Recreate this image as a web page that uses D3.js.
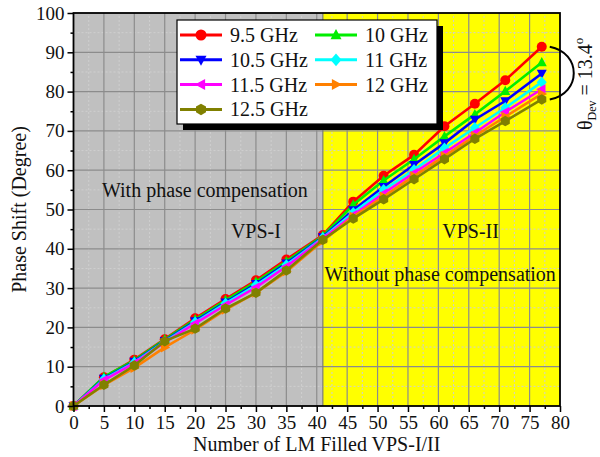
<!DOCTYPE html>
<html>
<head>
<meta charset="utf-8">
<script src="https://cdn.jsdelivr.net/npm/d3@7/dist/d3.min.js"></script>
<style>
  html, body { margin: 0; padding: 0; background: #fff; }
  svg { display: block; font-family: "Liberation Serif", "Times New Roman", serif; }
</style>
</head>
<body>
<svg id="chart" width="600" height="457"></svg>
<script>
// Number of LM-filled cells (x) and phase shift per frequency (degrees)
const cells = [0, 5, 10, 15, 20, 25, 30, 35, 41, 46, 51, 56, 61, 66, 71, 77];
const f95  = [0, 7.3, 11.8, 17.0, 22.3, 27.2, 32.0, 37.3, 43.5, 52.0, 58.6, 63.9, 71.2, 76.9, 82.9, 91.4];
const f10  = [0, 7.4, 11.6, 16.9, 22.0, 26.9, 31.6, 36.8, 43.3, 51.2, 57.4, 62.8, 68.6, 74.2, 80.1, 87.4];
const f105 = [0, 7.0, 11.3, 16.6, 21.6, 26.4, 31.1, 36.3, 43.0, 49.9, 55.8, 61.4, 66.9, 72.9, 77.6, 84.6];
const f11  = [0, 6.8, 11.1, 16.4, 21.3, 26.1, 30.7, 35.9, 42.8, 49.2, 55.0, 60.1, 65.6, 70.8, 75.9, 82.4];
const f115 = [0, 6.6, 10.9, 16.2, 21.0, 25.7, 30.2, 35.5, 42.6, 48.6, 54.1, 59.3, 64.4, 69.5, 74.8, 80.6];
const f12  = [0, 5.3, 9.7, 14.9, 19.4, 24.5, 28.8, 34.2, 42.0, 48.2, 53.3, 58.5, 63.6, 68.7, 73.6, 79.4];
const f125 = [0, 5.4, 10.3, 16.5, 19.7, 24.8, 28.8, 34.5, 42.3, 47.7, 52.6, 57.7, 62.8, 68.0, 72.5, 78.0];

const seriesNames = ["9.5 GHz", "10 GHz", "10.5 GHz", "11 GHz", "11.5 GHz", "12 GHz", "12.5 GHz"];
const seriesValues = [f95, f10, f105, f11, f115, f12, f125];
const seriesColors = ["#ff0000", "#00ee00", "#0000ff", "#00ffff", "#ff00ff", "#ff8000", "#808000"];
const seriesSymbols = ["circle", "up", "down", "diamond", "left", "right", "hexagon"];

const xTicks = [0, 5, 10, 15, 20, 25, 30, 35, 40, 45, 50, 55, 60, 65, 70, 75, 80];
const yTicks = [0, 10, 20, 30, 40, 50, 60, 70, 80, 90, 100];
const splitAt = 41;        // boundary between VPS-I and VPS-II
const deviation = 13.4;    // spread at the last point

const svg = d3.select("#chart");
const x = d3.scaleLinear().domain([0, 80]).range([73.5, 560]);
const y = d3.scaleLinear().domain([0, 100]).range([406, 13]);

// Background regions
svg.append("rect").attr("x", x(0)).attr("y", y(100))
  .attr("width", x(splitAt) - x(0)).attr("height", y(0) - y(100)).attr("fill", "#c0c0c0");
svg.append("rect").attr("x", x(splitAt)).attr("y", y(100))
  .attr("width", x(80) - x(splitAt)).attr("height", y(0) - y(100)).attr("fill", "#ffff00");

// Grid: minor dotted, major solid
const grid = svg.append("g");
d3.range(2.5, 80, 5).forEach(v => grid.append("line")
  .attr("x1", x(v)).attr("x2", x(v)).attr("y1", y(0)).attr("y2", y(100))
  .attr("stroke", "#cfcfcf").attr("stroke-width", 1).attr("stroke-dasharray", "2,2"));
d3.range(5, 100, 10).forEach(v => grid.append("line")
  .attr("x1", x(0)).attr("x2", x(80)).attr("y1", y(v)).attr("y2", y(v))
  .attr("stroke", "#cfcfcf").attr("stroke-width", 1).attr("stroke-dasharray", "2,2"));
xTicks.slice(1, -1).forEach(v => grid.append("line")
  .attr("x1", x(v)).attr("x2", x(v)).attr("y1", y(0)).attr("y2", y(100))
  .attr("stroke", "#8c8c8c").attr("stroke-width", 1.2));
yTicks.slice(1, -1).forEach(v => grid.append("line")
  .attr("x1", x(0)).attr("x2", x(80)).attr("y1", y(v)).attr("y2", y(v))
  .attr("stroke", "#8c8c8c").attr("stroke-width", 1.2));
// region divider
svg.append("line").attr("x1", x(splitAt)).attr("x2", x(splitAt)).attr("y1", y(0)).attr("y2", y(100))
  .attr("stroke", "#7a7a7a").attr("stroke-width", 1.2);

// Region captions
const cap = svg.append("g").attr("font-size", 20).attr("fill", "#111");
cap.append("text").attr("x", x(21.6)).attr("y", y(53.3)).attr("text-anchor", "middle").text("With phase compensation");
cap.append("text").attr("x", x(30)).attr("y", y(42.8)).attr("text-anchor", "middle").text("VPS-I");
cap.append("text").attr("x", x(65.3)).attr("y", y(42.8)).attr("text-anchor", "middle").text("VPS-II");
cap.append("text").attr("x", x(60.3)).attr("y", y(31.8)).attr("text-anchor", "middle").text("Without phase compensation");

// Marker shapes
function symbolPath(kind, r) {
  switch (kind) {
    case "circle": return d3.symbol(d3.symbolCircle, Math.PI * r * r)();
    case "up": return `M0,${-r * 1.1}L${r},${r * 0.75}L${-r},${r * 0.75}Z`;
    case "down": return `M0,${r * 1.1}L${r},${-r * 0.75}L${-r},${-r * 0.75}Z`;
    case "left": return `M${-r * 1.1},0L${r * 0.75},${-r}L${r * 0.75},${r}Z`;
    case "right": return `M${r * 1.1},0L${-r * 0.75},${-r}L${-r * 0.75},${r}Z`;
    case "diamond": return `M0,${-r * 1.15}L${r},0L0,${r * 1.15}L${-r},0Z`;
    case "hexagon": {
      const pts = d3.range(6).map(i => {
        const a = Math.PI / 6 + i * Math.PI / 3;
        return [r * 1.05 * Math.cos(a), r * 1.05 * Math.sin(a)];
      });
      return "M" + pts.map(p => p.join(",")).join("L") + "Z";
    }
  }
}

// Series lines and markers
const line = d3.line().x(d => x(d[0])).y(d => y(d[1]));
seriesValues.forEach((vals, i) => {
  const pts = cells.map((c, j) => [c, vals[j]]);
  const g = svg.append("g");
  g.append("path").attr("d", line(pts)).attr("fill", "none")
    .attr("stroke", seriesColors[i]).attr("stroke-width", 2.6);
  g.selectAll("path.m").data(pts).enter().append("path").attr("class", "m")
    .attr("transform", d => `translate(${x(d[0])},${y(d[1])})`)
    .attr("d", symbolPath(seriesSymbols[i], 5))
    .attr("fill", seriesColors[i]);
});

// Frame
svg.append("rect").attr("x", x(0)).attr("y", y(100))
  .attr("width", x(80) - x(0)).attr("height", y(0) - y(100))
  .attr("fill", "none").attr("stroke", "#000").attr("stroke-width", 1.8);

// Axes
const xAxis = svg.append("g").attr("transform", `translate(0,${y(0)})`)
  .call(d3.axisBottom(x).tickValues(xTicks).tickSize(6).tickPadding(4).tickFormat(d3.format("d")));
const xMinor = svg.append("g").attr("transform", `translate(0,${y(0)})`)
  .call(d3.axisBottom(x).tickValues(d3.range(2.5, 80, 5)).tickSize(3).tickFormat(""));
const yAxis = svg.append("g").attr("transform", `translate(${x(0)},0)`)
  .call(d3.axisLeft(y).tickValues(yTicks).tickSize(6).tickPadding(3).tickFormat(d3.format("d")));
const yMinor = svg.append("g").attr("transform", `translate(${x(0)},0)`)
  .call(d3.axisLeft(y).tickValues(d3.range(5, 100, 10)).tickSize(3).tickFormat(""));
[xAxis, xMinor, yAxis, yMinor].forEach(a => {
  a.select(".domain").remove();
  a.selectAll("line").attr("stroke", "#000").attr("stroke-width", 1.5);
  a.selectAll("text").attr("font-family", "Liberation Serif, serif").attr("font-size", 19).attr("fill", "#111");
});

// Axis titles
svg.append("text").attr("x", x(40)).attr("y", 451).attr("text-anchor", "middle")
  .attr("font-size", 20).attr("fill", "#111").text("Number of LM Filled VPS-I/II");
svg.append("text").attr("transform", `translate(26,${y(50)}) rotate(-90)`).attr("text-anchor", "middle")
  .attr("font-size", 20).attr("fill", "#111").text("Phase Shift (Degree)");

// Legend
const lg = svg.append("g").attr("transform", "translate(177,20)");
const lw = 260, lh = 104;
lg.append("rect").attr("x", 6).attr("y", 6).attr("width", lw).attr("height", lh).attr("fill", "#000");
lg.append("rect").attr("width", lw).attr("height", lh).attr("fill", "#fff").attr("stroke", "#000").attr("stroke-width", 1.2);
seriesNames.forEach((name, i) => {
  const col = i % 2, row = Math.floor(i / 2);
  const ox = 3 + col * 135, oy = 15 + row * 24.8;
  const e = lg.append("g").attr("transform", `translate(${ox},${oy})`);
  e.append("line").attr("x1", 0).attr("x2", 42).attr("stroke", seriesColors[i]).attr("stroke-width", 3);
  e.append("path").attr("transform", "translate(21,0)").attr("d", symbolPath(seriesSymbols[i], 5.5)).attr("fill", seriesColors[i]);
  e.append("text").attr("x", 50).attr("y", 7).attr("font-size", 20).attr("fill", "#111").text(name);
});

// Deviation bracket at the last point
const last = cells.length - 1;
const xa = x(cells[last]) + 8;
const yTop = y(f95[last]), yBot = y(f125[last]);
svg.append("path")
  .attr("d", `M${xa},${yTop}C${xa + 32},${yTop + 6} ${xa + 32},${yBot - 6} ${xa},${yBot}`)
  .attr("fill", "none").attr("stroke", "#000").attr("stroke-width", 2);
const dev = svg.append("text").attr("transform", `translate(592,130) rotate(-90)`)
  .attr("font-size", 20).attr("fill", "#111");
dev.append("tspan").text("θ");
dev.append("tspan").attr("font-size", 12).attr("dy", 4).text("Dev");
dev.append("tspan").attr("dy", -4).text(" = " + deviation.toFixed(1));
dev.append("tspan").attr("font-size", 13).attr("dy", -9).text("o");
</script>
</body>
</html>
